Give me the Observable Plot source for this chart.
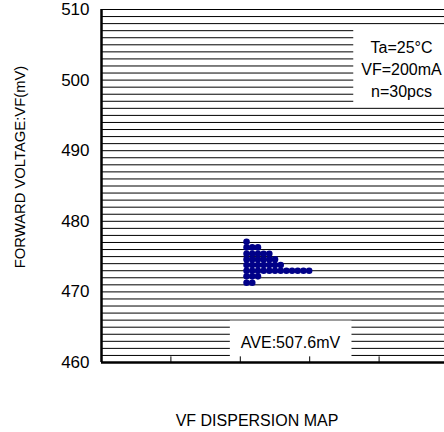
<!DOCTYPE html>
<html>
<head>
<meta charset="utf-8">
<script src="https://cdn.jsdelivr.net/npm/d3@7"></script>
<script src="https://cdn.jsdelivr.net/npm/@observablehq/plot@0.6"></script>
<style>
  html, body { margin: 0; padding: 0; background: #fff; }
</style>
</head>
<body>
<script>
// ---- data ----
const yTicks = [460, 470, 480, 490, 500, 510];
const yDomain = [460, 510];
const gridStep = 1;
const xDomain = [-25, 36];
const xTickCount = 5;
const vfValues = [
  477.1,
  476.3, 476.3, 476.3,
  475.4, 475.4, 475.4, 475.4, 475.4,
  474.6, 474.6, 474.6, 474.6, 474.6, 474.6,
  473.8, 473.8, 473.8, 473.8, 473.8, 473.8, 473.8,
  473.0, 473.0, 473.0, 473.0, 473.0, 473.0, 473.0, 473.0, 473.0, 473.0, 473.0, 473.0,
  472.2, 472.2, 472.2,
  471.3, 471.3
];
const conditionText = ["Ta=25°C", "VF=200mA", "n=30pcs"];
const averageText = "AVE:507.6mV";
const xTitle = "VF DISPERSION MAP";
const yTitle = "FORWARD VOLTAGE:VF(mV)";

const gridLines = d3.range(yDomain[0] + gridStep, yDomain[1] + gridStep / 2, gridStep);
const xTicks = d3.range(xTickCount + 1).map(i => xDomain[0] + i * (xDomain[1] - xDomain[0]) / xTickCount);

const chart = Plot.plot({
  width: 444,
  height: 432,
  marginTop: 9,
  marginBottom: 70,
  marginLeft: 101,
  marginRight: -4,
  style: { fontFamily: "'Liberation Sans', Arial, sans-serif", fontSize: "16px", color: "#000", background: "#fff" },
  x: { domain: xDomain, axis: null },
  y: { domain: yDomain },
  marks: [
    Plot.ruleY(gridLines, { stroke: "#000", strokeWidth: 1 }),
    Plot.dot(vfValues, Plot.stackX({ y: d => d, x: 1, r: 3.3, fill: "#000088", stroke: "none" })),
    Plot.text([conditionText.join("\n")], {
      frameAnchor: "top-right", dx: -47, dy: 58, lineAnchor: "middle",
      textAnchor: "middle", lineHeight: 1.38, fontSize: 16, fill: "#000"
    }),
    Plot.text([averageText], {
      frameAnchor: "bottom-left", dx: 189, dy: -20, lineAnchor: "middle",
      textAnchor: "middle", fontSize: 16, fill: "#000"
    }),
    Plot.text([xTitle], {
      frameAnchor: "bottom", dx: -18, dy: 58, lineAnchor: "middle",
      textAnchor: "middle", fontSize: 16, fill: "#000"
    }),
    Plot.text([yTitle], {
      frameAnchor: "left", dx: -81, dy: -19, rotate: -90, lineAnchor: "middle",
      textAnchor: "middle", fontSize: 14.8, fill: "#000"
    }),
    Plot.ruleX(xTicks.slice(1, -1), { y1: yDomain[0], y2: yDomain[0] + 0.8, stroke: "#000", strokeWidth: 1 }),
    Plot.axisY({ ticks: yTicks, tickSize: 0, tickPadding: 12, fontSize: 17, label: null }),
    Plot.ruleX([xDomain[0]], { stroke: "#000", strokeWidth: 2.5 }),
    Plot.ruleY([yDomain[0]], { stroke: "#000", strokeWidth: 2.5 })
  ]
});
document.body.append(chart);

// white backing boxes behind the two annotations (drawn inside each text group)
const svgNS = "http://www.w3.org/2000/svg";
const textGroups = chart.querySelectorAll('g[aria-label="text"]');
const pads = [
  { l: 8, r: 20, t: 13, b: 5 },
  { l: 11, r: 11, t: 13, b: 20 }
];
[0, 1].forEach(i => {
  const g = textGroups[i];
  if (!g) return;
  const bb = g.getBBox();
  const p = pads[i];
  const rect = document.createElementNS(svgNS, "rect");
  rect.setAttribute("x", bb.x - p.l);
  rect.setAttribute("y", bb.y - p.t);
  rect.setAttribute("width", bb.width + p.l + p.r);
  rect.setAttribute("height", bb.height + p.t + p.b);
  rect.setAttribute("fill", "#fff");
  rect.setAttribute("stroke", "none");
  g.insertBefore(rect, g.firstChild);
});
</script>
</body>
</html>
